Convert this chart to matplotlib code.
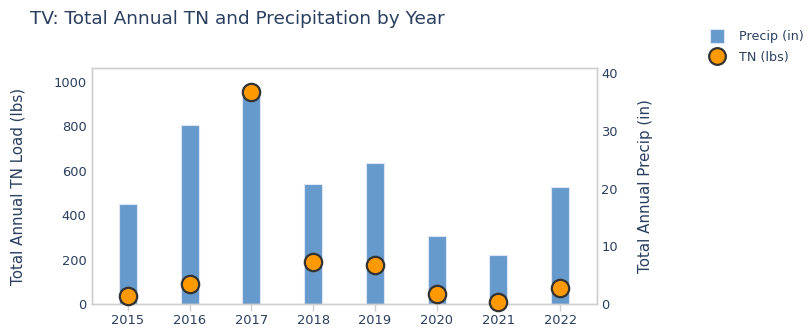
import matplotlib
matplotlib.use("Agg")
import matplotlib.pyplot as plt
from matplotlib.lines import Line2D

years = ["2015", "2016", "2017", "2018", "2019", "2020", "2021", "2022"]
precip_in = [17.3, 31.0, 37.6, 20.8, 24.5, 11.7, 8.5, 20.3]
tn_lbs = [37, 90, 956, 190, 176, 44, 8, 72]

TXT = "#2a3f5f"
BAR = "#6699cc"
ORANGE = "#ff9900"
GRID = "#d0d0d0"

fig = plt.figure(figsize=(8.07, 3.31), dpi=100)
ax = fig.add_axes([0.114, 0.0816, 0.626, 0.713])
ax2 = ax.twinx()
ax.set_zorder(ax2.get_zorder() + 1)
ax.patch.set_visible(False)

x = list(range(len(years)))
ax2.bar(x, precip_in, width=0.29, color=BAR, edgecolor="#dde6f2", linewidth=0.8, zorder=2)
ax.plot(x, tn_lbs, linestyle="none", marker="o", markersize=12.5,
        markerfacecolor=ORANGE, markeredgecolor="#333333", markeredgewidth=1.6,
        zorder=5, clip_on=False)

ax.set_xlim(-0.58, 7.6)
ax.set_ylim(0, 1063)
ax2.set_ylim(0, 40.9)

ax.set_xticks(x)
ax.set_xticklabels(years)
ax.set_yticks([0, 200, 400, 600, 800, 1000])
ax2.set_yticks([0, 10, 20, 30, 40])

for a in (ax, ax2):
    for s in a.spines.values():
        s.set_color(GRID)
        s.set_linewidth(1.0)
ax.tick_params(axis="x", colors=GRID, labelcolor=TXT, labelsize=9.4, length=5, width=1, pad=2)
ax.tick_params(axis="y", length=0, labelcolor=TXT, labelsize=9.4, pad=4)
ax2.tick_params(axis="y", length=0, labelcolor=TXT, labelsize=9.4, pad=3)

ax.set_ylabel("Total Annual TN Load (lbs)", color=TXT, fontsize=10.9, va="center")
ax.yaxis.set_label_coords(-0.1465, 0.5)
ax2.set_ylabel("Total Annual Precip (in)", color=TXT, fontsize=10.9, rotation=90, va="center")
ax2.yaxis.set_label_coords(1.095, 0.5)

fig.text(30 / 807, 1 - 19 / 331, "TV: Total Annual TN and Precipitation by Year",
         color=TXT, fontsize=13.3, va="center", ha="left")

handles = [
    Line2D([], [], linestyle="none", marker="s", markersize=10, markerfacecolor=BAR,
           markeredgecolor="#dde6f2", markeredgewidth=0.8, label="Precip (in)"),
    Line2D([], [], linestyle="none", marker="o", markersize=12, markerfacecolor=ORANGE,
           markeredgecolor="#333333", markeredgewidth=1.6, label="TN (lbs)"),
]
leg = fig.legend(handles=handles, loc="upper left", bbox_to_anchor=(708 / 807, 1 - 30 / 331),
                 frameon=False, fontsize=9.2, handletextpad=1.05, labelspacing=0.6,
                 borderaxespad=0, borderpad=0, handlelength=1.4)
for t in leg.get_texts():
    t.set_color(TXT)

fig.savefig("out.png", dpi=100)
